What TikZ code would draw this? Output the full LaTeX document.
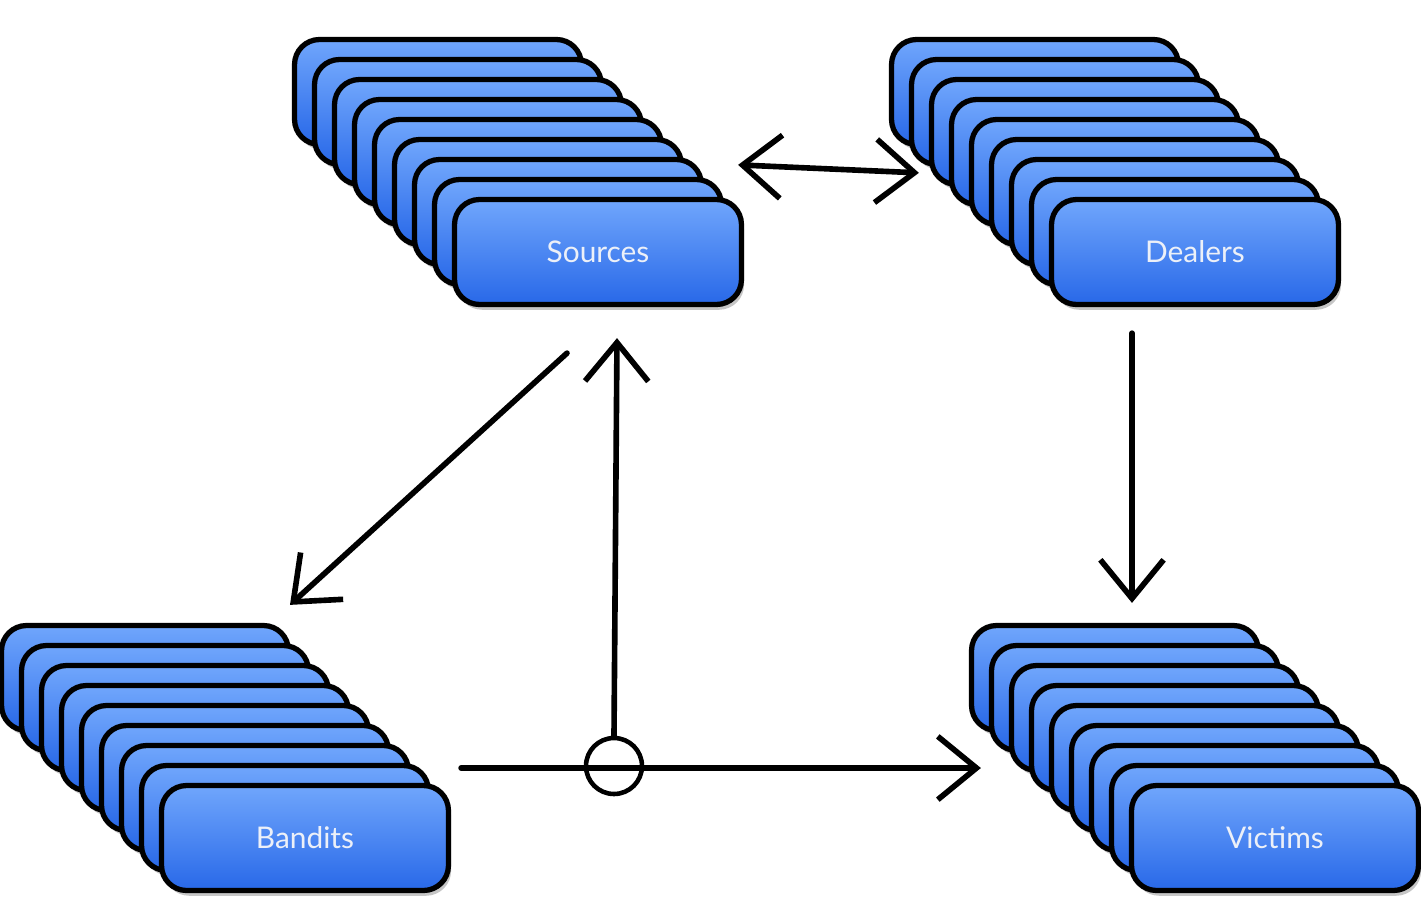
\documentclass[tikz,border=0pt]{standalone}
\usepackage{fontspec}
\setmainfont{Lato}
\usetikzlibrary{positioning, arrows.meta, calc, shadows}

\definecolor{cardtop}{RGB}{112,166,252}
\definecolor{cardbot}{RGB}{40,104,232}
\definecolor{cardtext}{RGB}{236,240,248}

\tikzset{
    card/.style={draw=black, line width=3pt, rounded corners=0.5cm,
        top color=cardtop, bottom color=cardbot,
        minimum width=5.74cm, minimum height=2.1cm, inner sep=0pt,
        drop shadow={shadow xshift=1.5pt, shadow yshift=-3pt, opacity=0.45}},
    label/.style={text=cardtext, font=\fontsize{17}{20}\selectfont},
    tip/.tip={Straight Barb[length=22pt, width=36pt]},
    link/.style={line width=3.2pt, line cap=round, -tip},
    hub/.style={draw, circle, line width=2.6pt, minimum size=1.12cm, inner sep=0pt}
}

% a stack of nine cards, the front one carries the name
\newcommand{\cardstack}[4]{%
    \foreach \i in {8,...,1}
    {
        \node[card] (#1-\i) at (#2-20*\i, #3-20*\i) {};
    }
    \node[card, label] (#1) at (#2, #3) {#4};
}

\begin{document}
\begin{tikzpicture}[x=0.02cm, y=-0.02cm]
    \useasboundingbox (0,0) rectangle (1421,914);

    \cardstack{sources}{598}{252}{Sources}
    \cardstack{dealers}{1195}{252}{Dealers}
    \cardstack{bandits}{305}{838}{Bandits}
    \cardstack{victims}{1275}{838}{Victims}

    % arrow ends
    \coordinate (s-d) at ($(sources.north east)+(-6,-32)$);
    \coordinate (d-s) at ($(dealers.north west)+(-130,-24)$);
    \coordinate (s-b) at ($(sources.south)+(-31,46)$);
    \coordinate (b-s) at ($(bandits.north)+(-15,-178)$);
    \coordinate (d-v) at ($(dealers.south)+(-63,26)$);
    \coordinate (v-d) at ($(victims.north)+(-143,-180)$);
    \coordinate (b-v) at ($(bandits.east)+(10,-70)$);
    \coordinate (v-b) at ($(victims.west)+(-148,-70)$);
    \coordinate (h-s) at ($(sources.south)+(19,31)$);

    \node[hub] (hub) at (614,766) {};

    \draw[link, tip-tip] (s-d) -- (d-s);
    \draw[link] (s-b) -- (b-s);
    \draw[link] (d-v) -- (v-d);
    \draw[link] (b-v) -- (v-b);
    \draw[link] (hub.north) -- (h-s);
\end{tikzpicture}
\end{document}
